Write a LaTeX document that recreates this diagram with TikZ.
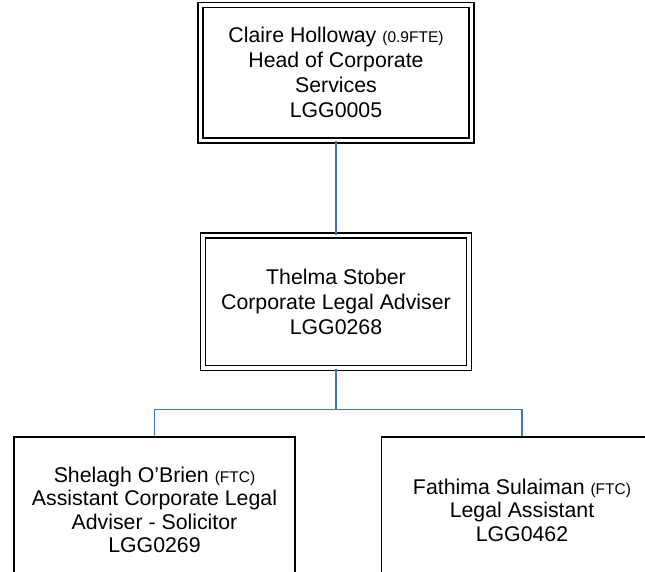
\documentclass[tikz,border=0pt]{standalone}
\usepackage{fontspec}
\setmainfont{Liberation Sans}
\usetikzlibrary{positioning}
\definecolor{linkblue}{RGB}{68,114,196}
\newcommand{\contract}[1]{{\fontsize{15.5}{15.5}\selectfont #1}}

\begin{document}
\begin{tikzpicture}[x=1pt, y=-1pt,
manager/.style={draw=black, line width=1.3pt, double=white, double distance=3.7pt,
align=center, inner sep=0pt, font=\fontsize{21.3}{25}\selectfont},
staff/.style={draw=black, line width=1.4pt, align=center, inner sep=0pt,
minimum width=281pt, minimum height=146pt, font=\fontsize{21.3}{23.4}\selectfont},
link/.style={linkblue, line width=1.4pt}]

\useasboundingbox (0,0) rectangle (645,571);

% MANAGERS
\node[manager, minimum width=271pt, minimum height=135.5pt] (head) at (336,72.8)
{Claire Holloway \contract{(0.9FTE)}\\Head of Corporate\\Services\\LGG0005};
\node[manager, minimum width=266pt, minimum height=132.5pt] (adviser) at (336,301.8)
{Thelma Stober\\Corporate Legal Adviser\\LGG0268};

% STAFF
\node[staff] (solicitor) at (154.5,510)
{Shelagh O’Brien \contract{(FTC)}\\Assistant Corporate Legal\\Adviser - Solicitor\\LGG0269};
\node[staff] (assistant) at (522,510)
{Fathima Sulaiman \contract{(FTC)}\\Legal Assistant\\LGG0462};

% CONNECTORS
\draw[link] (head.south) -- (adviser.north);
\draw[link] (adviser.south) -- ++(0,41) -| (solicitor.north);
\draw[link] (adviser.south) -- ++(0,41) -| (assistant.north);

\end{tikzpicture}
\end{document}
